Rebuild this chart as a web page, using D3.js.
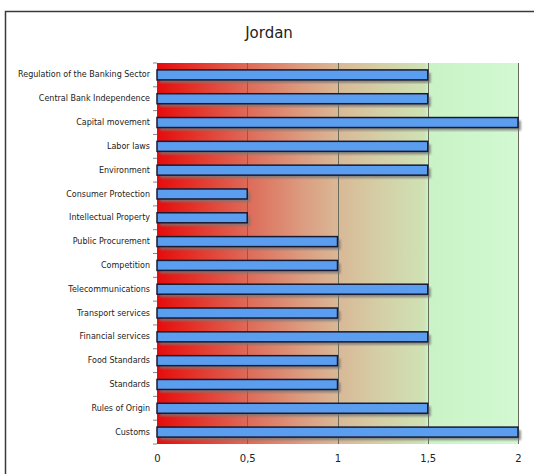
<!DOCTYPE html>
<html>
<head>
<meta charset="utf-8">
<script src="https://cdn.jsdelivr.net/npm/d3@7"></script>
<style>
  body { margin: 0; background: #fff; }
  svg { display: block; }
  text { font-family: "DejaVu Sans", Verdana, sans-serif; fill: #222; }
</style>
</head>
<body>
<svg id="chart"></svg>
<script>
const width = 534;
const height = 474;

// data
var categories = ["Regulation of the Banking Sector", "Central Bank Independence", "Capital movement",
  "Labor laws", "Environment", "Consumer Protection", "Intellectual Property", "Public Procurement",
  "Competition", "Telecommunications", "Transport services", "Financial services", "Food Standards",
  "Standards", "Rules of Origin", "Customs"];
var values = [1.5, 1.5, 2, 1.5, 1.5, 0.5, 0.5, 1, 1, 1.5, 1, 1.5, 1, 1, 1.5, 2];
var xTicks = [0, 0.5, 1, 1.5, 2];
var title = "Jordan";

var margin = { top: 63, right: 16, bottom: 30, left: 157 };

var svg = d3.select('#chart')
  .attr('width', width)
  .attr('height', height);

var x = d3.scaleLinear()
  .domain([0, 2])
  .range([margin.left, 518]);

var y = d3.scaleBand()
  .domain(categories)
  .range([margin.top, 444])
  .paddingInner(0)
  .paddingOuter(0);

// background gradient red -> tan -> light green
var defs = svg.append('defs');
var grad = defs.append('linearGradient')
  .attr('id', 'bg')
  .attr('gradientUnits', 'userSpaceOnUse')
  .attr('x1', x(0)).attr('x2', x(2))
  .attr('y1', 0).attr('y2', 0);
var stops = [
  [0, '#e40c0c'], [0.08, '#e42a22'], [0.25, '#de6a58'], [0.4, '#dc9b7f'],
  [0.5, '#d9b896'], [0.62, '#d4cfa6'], [0.74, '#cfe2b4'], [0.75, '#c9f3c6'], [1, '#d2f9d2']
];
grad.selectAll('stop').data(stops).enter().append('stop')
  .attr('offset', d => d[0])
  .attr('stop-color', d => d[1]);

var sh = defs.append('filter').attr('id', 'blur');
sh.append('feGaussianBlur').attr('stdDeviation', 0.8);

// outer frame
svg.append('rect')
  .attr('x', 5.5).attr('y', 11.5)
  .attr('width', 560).attr('height', 500)
  .attr('fill', '#fff')
  .attr('stroke', '#3a3a3a')
  .attr('stroke-width', 1.5);

svg.append('text')
  .attr('x', 269)
  .attr('y', 38)
  .attr('text-anchor', 'middle')
  .style('font-size', '15px')
  .text(title);

svg.append('rect')
  .attr('x', x(0)).attr('y', margin.top)
  .attr('width', x(2) - x(0))
  .attr('height', 444 - margin.top)
  .attr('fill', 'url(#bg)');

// vertical grid lines
svg.append('g')
  .selectAll('line')
  .data(xTicks.slice(1))
  .enter().append('line')
  .attr('x1', d => Math.round(x(d)) + 0.5)
  .attr('x2', d => Math.round(x(d)) + 0.5)
  .attr('y1', margin.top)
  .attr('y2', 444)
  .attr('stroke', '#6a6a5a')
  .attr('stroke-width', 1);

// bars
var barH = 10;
var bars = svg.append('g');
bars.selectAll('.shadow')
  .data(values)
  .enter().append('rect')
  .attr('class', 'shadow')
  .attr('x', x(0) + 3)
  .attr('y', (d, i) => y(categories[i]) + y.bandwidth() / 2 - barH / 2 + 3)
  .attr('width', d => x(d) - x(0))
  .attr('height', barH)
  .attr('fill', '#777')
  .attr('opacity', 0.8)
  .attr('filter', 'url(#blur)');

bars.selectAll('.bar')
  .data(values)
  .enter().append('rect')
  .attr('class', 'bar')
  .attr('x', x(0))
  .attr('y', (d, i) => y(categories[i]) + y.bandwidth() / 2 - barH / 2)
  .attr('width', d => x(d) - x(0))
  .attr('height', barH)
  .attr('fill', '#5b9ef0')
  .attr('stroke', '#1a1a30')
  .attr('stroke-width', 1.5);

// y axis
var yAxis = d3.axisLeft(y).tickSize(0).tickPadding(7);
var gy = svg.append('g')
  .attr('transform', 'translate(' + x(0) + ',0)')
  .call(yAxis);
gy.select('.domain').remove();
gy.selectAll('text')
  .style('font-size', '8px')
  .style('font-family', '"DejaVu Sans", Verdana, sans-serif')
  .attr('fill', '#333');

// small ticks at band boundaries
svg.append('g')
  .selectAll('line')
  .data(categories.concat(['end']))
  .enter().append('line')
  .attr('x1', x(0) - 4).attr('x2', x(0))
  .attr('y1', (d, i) => margin.top + i * y.bandwidth())
  .attr('y2', (d, i) => margin.top + i * y.bandwidth())
  .attr('stroke', '#888');

// x axis
var fmt = d => String(d).replace('.', ',');
var xAxis = d3.axisBottom(x).tickValues(xTicks).tickFormat(fmt).tickSize(0).tickPadding(11);
var gx = svg.append('g')
  .attr('transform', 'translate(0,444)')
  .call(xAxis);
gx.select('.domain').remove();
gx.selectAll('text')
  .style('font-size', '10px')
  .style('font-family', '"DejaVu Sans", Verdana, sans-serif')
  .attr('fill', '#222');
</script>
</body>
</html>
